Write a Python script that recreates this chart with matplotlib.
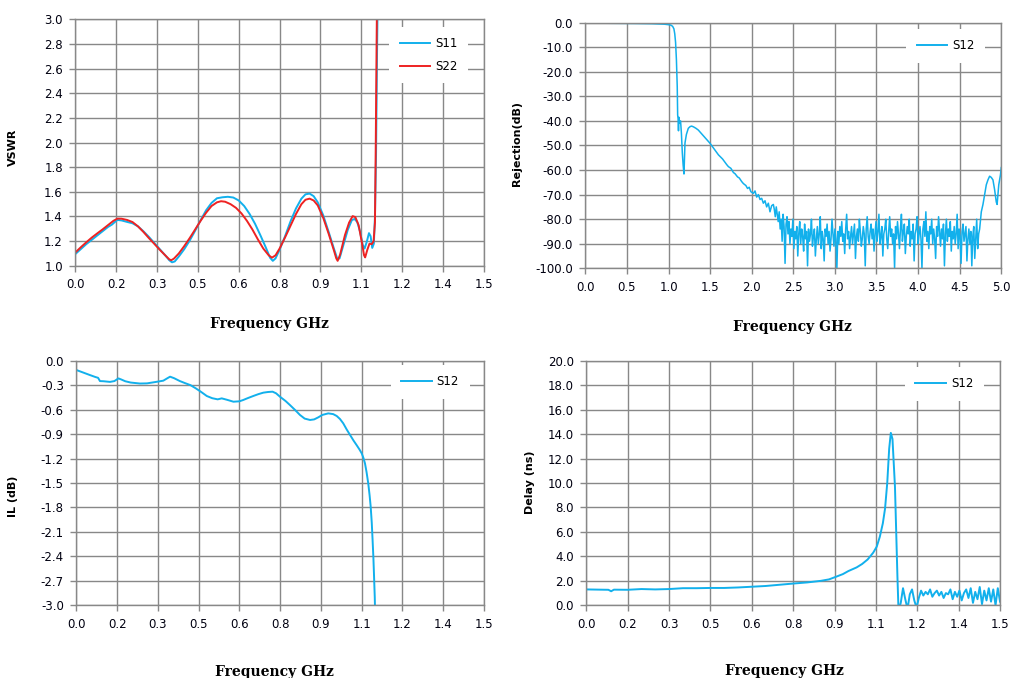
import numpy as np
import matplotlib
matplotlib.use("Agg")
import matplotlib.pyplot as plt

plt.rcParams['font.family'] = ['DejaVu Sans']

# ---------------- data ----------------
x_ticks_15 = [0.0, 0.15, 0.3, 0.45, 0.6, 0.75, 0.9, 1.05, 1.2, 1.35, 1.5]
x_ticklabels_15 = ["0.0", "0.2", "0.3", "0.5", "0.6", "0.8", "0.9", "1.1", "1.2", "1.4", "1.5"]
x_ticks_5 = [0.0, 0.5, 1.0, 1.5, 2.0, 2.5, 3.0, 3.5, 4.0, 4.5, 5.0]
x_ticklabels_5 = ["0.0", "0.5", "1.0", "1.5", "2.0", "2.5", "3.0", "3.5", "4.0", "4.5", "5.0"]

vswr_ticks = [1.0, 1.2, 1.4, 1.6, 1.8, 2.0, 2.2, 2.4, 2.6, 2.8, 3.0]
rej_ticks = [0, -10, -20, -30, -40, -50, -60, -70, -80, -90, -100]
il_ticks = [0.0, -0.3, -0.6, -0.9, -1.2, -1.5, -1.8, -2.1, -2.4, -2.7, -3.0]
delay_ticks = [0, 2, 4, 6, 8, 10, 12, 14, 16, 18, 20]

s11_f = [0.000, 0.020, 0.040, 0.060, 0.080, 0.100, 0.120, 0.135, 0.145, 0.155, 0.170, 0.190,
         0.210, 0.230, 0.250, 0.270, 0.290, 0.310, 0.330, 0.345, 0.355, 0.365, 0.380, 0.400,
         0.420, 0.440, 0.460, 0.480, 0.500, 0.520, 0.540, 0.560, 0.580, 0.600, 0.620, 0.640,
         0.660, 0.680, 0.700, 0.715, 0.725, 0.735, 0.750, 0.770, 0.790, 0.810, 0.830, 0.845,
         0.860, 0.875, 0.890, 0.910, 0.930, 0.950, 0.962, 0.970, 0.985, 1.000, 1.015, 1.025,
         1.035, 1.045, 1.055, 1.062, 1.070, 1.078, 1.084, 1.090, 1.096, 1.100, 1.104, 1.108, 1.112]
s11_v = [1.095, 1.135, 1.175, 1.210, 1.245, 1.280, 1.315, 1.335, 1.355, 1.372, 1.368, 1.356,
         1.345, 1.320, 1.280, 1.235, 1.185, 1.135, 1.085, 1.045, 1.028, 1.035, 1.075, 1.135,
         1.205, 1.285, 1.370, 1.450, 1.510, 1.548, 1.556, 1.560, 1.554, 1.530, 1.485, 1.420,
         1.340, 1.245, 1.145, 1.065, 1.040, 1.060, 1.130, 1.240, 1.360, 1.465, 1.545, 1.580,
         1.586, 1.565, 1.515, 1.410, 1.275, 1.135, 1.055, 1.060, 1.175, 1.290, 1.370, 1.380,
         1.355, 1.280, 1.170, 1.140, 1.195, 1.265, 1.240, 1.145, 1.180, 1.400, 1.900, 2.800, 3.500]

s22_f = [0.000, 0.020, 0.040, 0.060, 0.080, 0.100, 0.120, 0.140, 0.155, 0.170, 0.190, 0.210,
         0.230, 0.250, 0.270, 0.290, 0.310, 0.330, 0.345, 0.352, 0.362, 0.380, 0.400, 0.420,
         0.440, 0.460, 0.480, 0.500, 0.520, 0.535, 0.550, 0.570, 0.590, 0.610, 0.630, 0.650,
         0.670, 0.690, 0.710, 0.722, 0.735, 0.750, 0.770, 0.790, 0.810, 0.830, 0.845, 0.860,
         0.875, 0.890, 0.910, 0.930, 0.950, 0.958, 0.963, 0.972, 0.990, 1.005, 1.018, 1.028,
         1.040, 1.052, 1.060, 1.064, 1.072, 1.080, 1.088, 1.095, 1.100, 1.103, 1.106, 1.109]
s22_v = [1.108, 1.150, 1.190, 1.228, 1.262, 1.295, 1.330, 1.365, 1.383, 1.382, 1.372, 1.355,
         1.320, 1.275, 1.225, 1.178, 1.130, 1.085, 1.052, 1.045, 1.058, 1.100, 1.160, 1.225,
         1.295, 1.365, 1.430, 1.485, 1.515, 1.524, 1.520, 1.500, 1.470, 1.425, 1.365, 1.295,
         1.215, 1.140, 1.085, 1.066, 1.085, 1.140, 1.230, 1.325, 1.420, 1.500, 1.536, 1.545,
         1.530, 1.490, 1.390, 1.260, 1.120, 1.060, 1.040, 1.090, 1.250, 1.350, 1.403, 1.395,
         1.330, 1.190, 1.085, 1.068, 1.130, 1.180, 1.175, 1.200, 1.350, 2.000, 2.800, 3.500]

rej_f_main = [0.00, 0.20, 0.40, 0.60, 0.80, 0.95, 1.00, 1.03, 1.05, 1.065, 1.075, 1.085, 1.095,
              1.105, 1.110, 1.115, 1.120, 1.125, 1.135, 1.145, 1.155, 1.166, 1.176, 1.186,
              1.192, 1.198, 1.215, 1.238, 1.260, 1.278, 1.300, 1.330, 1.358, 1.400, 1.450,
              1.499, 1.550, 1.600, 1.650, 1.700, 1.720, 1.750, 1.780, 1.800, 1.830, 1.850,
              1.880, 1.900, 1.930, 1.950, 1.970, 1.990, 2.020, 2.040, 2.060, 2.080, 2.100,
              2.120, 2.140, 2.160, 2.180, 2.200, 2.220, 2.240]
rej_v_main = [-0.1, -0.2, -0.25, -0.3, -0.4, -0.6, -0.8, -1.0, -1.5, -2.5, -4.5, -8.0, -15.0,
              -26.0, -37.6, -39.0, -44.0, -38.5, -41.0, -40.0, -45.0, -53.0, -58.0, -61.6,
              -55.0, -49.0, -45.5, -43.0, -42.3, -42.1, -42.4, -43.0, -43.7, -45.3, -47.2,
              -49.1, -51.5, -53.8, -55.5, -57.8, -58.6, -59.3, -61.0, -61.5, -62.8, -63.2,
              -64.7, -65.5, -66.3, -67.5, -67.0, -68.8, -69.5, -68.5, -71.0, -70.0, -72.0,
              -71.5, -73.5, -72.5, -75.0, -73.5, -77.0, -74.5]
rej_noise_start = 2.26
rej_noise_stop = 4.74
rej_v_noise = [-74, -76, -79, -75, -78, -81, -77, -84, -80, -89, -78, -83, -98, -82, -79, -86, -81, -90, -84, -87, -80,
               -92, -85, -88, -83, -95, -86, -81, -90, -84, -87, -93, -82, -88, -85, -99, -84, -89, -86, -80, -91,
               -87, -84, -95, -88, -83, -90, -86, -79, -92, -85, -88, -97, -84, -87, -82, -90, -85, -93, -88, -80,
               -86, -91, -84, -88, -100, -85, -90, -83, -87, -81, -89, -86, -94, -84, -78, -88, -85, -92, -87, -83,
               -90, -86, -82, -96, -87, -84, -89, -80, -85, -91, -88, -83, -86, -99, -84, -79, -87, -90, -85, -82,
               -88, -84, -93, -86, -81, -89, -85, -78, -90, -87, -83, -95, -86, -84, -80, -88, -92, -85, -79, -87,
               -84, -90, -86, -100, -83, -88, -81, -86, -92, -84, -78, -89, -85, -82, -94, -87, -83, -86, -80, -91,
               -85, -88, -82, -97, -86, -84, -79, -90, -86, -83, -88, -100, -84, -81, -87, -77, -89, -85, -92, -83,
               -86, -80, -90, -84, -88, -96, -83, -87, -79, -85, -91, -84, -88, -82, -99, -86, -80, -89, -84, -87,
               -81, -93, -85, -88, -83, -90, -86, -78, -92, -84, -87, -98, -85, -82, -89, -86, -83, -97, -88, -84,
               -90, -85, -99, -87, -83, -96, -88, -80, -92, -86, -84]
rej_f_tail = [4.76, 4.78, 4.80, 4.82, 4.84, 4.86, 4.88, 4.90, 4.92, 4.94, 4.95, 4.97, 4.99, 5.00]
rej_v_tail = [-77, -74, -70, -66, -64, -62.5, -63, -64, -68, -73, -74, -66, -62, -59]

il_f = [0.000, 0.025, 0.050, 0.070, 0.080, 0.087, 0.100, 0.124, 0.140, 0.155, 0.165, 0.180,
        0.200, 0.234, 0.260, 0.290, 0.320, 0.335, 0.345, 0.360, 0.381, 0.400, 0.420, 0.440,
        0.460, 0.480, 0.500, 0.520, 0.535, 0.555, 0.578, 0.600, 0.614, 0.630, 0.651, 0.670,
        0.688, 0.705, 0.722, 0.735, 0.749, 0.770, 0.786, 0.805, 0.823, 0.840, 0.860, 0.875,
        0.890, 0.905, 0.927, 0.945, 0.958, 0.970, 0.982, 0.995, 1.007, 1.020, 1.031, 1.042,
        1.050, 1.056, 1.062, 1.068, 1.074, 1.079, 1.083, 1.087, 1.090, 1.093, 1.095, 1.098, 1.100]
il_v = [-0.114, -0.145, -0.176, -0.200, -0.210, -0.250, -0.252, -0.260, -0.250, -0.217, -0.230, -0.252,
        -0.268, -0.280, -0.278, -0.262, -0.245, -0.215, -0.196, -0.215, -0.250, -0.275, -0.300, -0.340,
        -0.385, -0.433, -0.460, -0.474, -0.462, -0.480, -0.503, -0.498, -0.482, -0.460, -0.433, -0.410,
        -0.392, -0.384, -0.380, -0.400, -0.441, -0.495, -0.544, -0.605, -0.666, -0.710, -0.727, -0.720,
        -0.695, -0.665, -0.646, -0.655, -0.678, -0.715, -0.768, -0.845, -0.910, -0.980, -1.034, -1.090,
        -1.136, -1.190, -1.259, -1.370, -1.504, -1.650, -1.790, -1.990, -2.200, -2.420, -2.607, -2.900, -3.200]

delay_f_main = [0.00, 0.05, 0.08, 0.09, 0.10, 0.15, 0.20, 0.25, 0.30, 0.35, 0.40, 0.45, 0.50,
                0.55, 0.60, 0.65, 0.70, 0.75, 0.80, 0.85, 0.88, 0.90, 0.93, 0.95, 0.98, 1.00,
                1.02, 1.04, 1.053, 1.064, 1.075, 1.083, 1.091, 1.098, 1.104, 1.110, 1.119,
                1.128, 1.132]
delay_v_main = [1.30, 1.28, 1.27, 1.15, 1.28, 1.27, 1.33, 1.30, 1.33, 1.40, 1.40, 1.42, 1.42,
                1.46, 1.52, 1.58, 1.68, 1.78, 1.87, 2.00, 2.12, 2.29, 2.55, 2.80, 3.10, 3.38,
                3.75, 4.30, 4.80, 5.60, 6.70, 7.90, 10.0, 12.8, 14.1, 13.6, 9.7, 2.3, -0.5]
delay_noise_start = 1.14
delay_noise_stop = 1.50
delay_v_noise = [0.2, 1.4, 0.5, -0.3, 0.9, 1.3, 0.4, -0.2, 0.6, 1.2, 0.8, 1.1, 0.9, 1.3, 0.7,
                 1.0, 1.2, 0.8, 1.1, 0.6, 1.0, 0.9, 1.3, 0.5, 1.1, 0.7, 1.2, 0.4, 1.0, 1.3,
                 0.6, 1.4, 0.2, 1.1, 0.5, 1.5, 0.1, 1.2, 0.4, 1.4, 0.3, 1.3, 0.0, 1.4, 0.3]

# ---------------- style ----------------
BLUE = '#12B0EC'
RED = '#EE2222'
GRID = '#888888'

fig = plt.figure(figsize=(10.19, 6.78), dpi=100)

def style_axes(ax, xlim, ylim, xt, xtl, yt, ytl, xlabel, ylabel, xl_pos, yl_pos):
    ax.set_xlim(*xlim)
    ax.set_ylim(*ylim)
    ax.set_xticks(xt)
    ax.set_xticklabels(xtl)
    ax.set_yticks(yt)
    ax.set_yticklabels(ytl)
    ax.grid(True, color=GRID, linewidth=1.0)
    ax.set_axisbelow(True)
    for sp in ax.spines.values():
        sp.set_color(GRID)
        sp.set_linewidth(1.0)
        sp.set_zorder(6)
    ax.tick_params(direction='out', length=4, width=1.0, color=GRID,
                   labelsize=8.5, labelcolor='#000010', pad=5)
    ax.set_xlabel(xlabel, family='DejaVu Serif', fontweight='bold', fontsize=10)
    ax.set_ylabel(ylabel, fontweight='bold', fontsize=8)
    ax.xaxis.set_label_coords(*xl_pos)
    ax.yaxis.set_label_coords(*yl_pos)

def add_legend(ax, anchor):
    ax.legend(loc='upper right', bbox_to_anchor=anchor, frameon=True, fancybox=False,
              edgecolor='none', facecolor='white', framealpha=1, fontsize=8.5,
              handlelength=2.6, handletextpad=0.4, borderpad=0.9, labelspacing=0.8)

# Top-left: VSWR
ax1 = fig.add_axes([0.0739, 0.608, 0.401, 0.3634])
ax1.plot(s11_f, s11_v, color=BLUE, lw=1.4, label='S11')
ax1.plot(s22_f, s22_v, color=RED, lw=1.4, label='S22')
style_axes(ax1, (0, 1.5), (1.0, 3.0), x_ticks_15, x_ticklabels_15,
           vswr_ticks, [f"{v:.1f}" for v in vswr_ticks],
           'Frequency GHz', 'VSWR', (0.476, -0.208), (-0.140, 0.48))
add_legend(ax1, (0.976, 0.994))

# Top-right: Rejection
ax2 = fig.add_axes([0.5744, 0.6043, 0.4082, 0.3622])
rej_f = rej_f_main + list(np.linspace(rej_noise_start, rej_noise_stop, len(rej_v_noise))) + rej_f_tail
rej_v = rej_v_main + rej_v_noise + rej_v_tail
ax2.plot(rej_f, rej_v, color=BLUE, lw=1.1, label='S12')
style_axes(ax2, (0, 5.0), (-100, 0), x_ticks_5, x_ticklabels_5,
           rej_ticks, [f"{v:.1f}" for v in rej_ticks],
           'Frequency GHz', 'Rejection(dB)', (0.499, -0.21), (-0.153, 0.51))
add_legend(ax2, (0.975, 1.0))
ax2.get_legend().get_lines()[0].set_linewidth(1.4)

# Bottom-left: IL
ax3 = fig.add_axes([0.0749, 0.1072, 0.4001, 0.3608])
ax3.plot(il_f, il_v, color=BLUE, lw=1.4, label='S12')
style_axes(ax3, (0, 1.5), (-3.0, 0.0), x_ticks_15, x_ticklabels_15,
           il_ticks, [f"{v:.1f}" for v in il_ticks],
           'Frequency GHz', 'IL (dB)', (0.487, -0.244), (-0.142, 0.444))
add_legend(ax3, (0.979, 1.008))

# Bottom-right: Delay
ax4 = fig.add_axes([0.5754, 0.1072, 0.406, 0.3608])
delay_f = delay_f_main + list(np.linspace(delay_noise_start, delay_noise_stop, len(delay_v_noise)))
delay_v = delay_v_main + delay_v_noise
ax4.plot(delay_f, delay_v, color=BLUE, lw=1.4, label='S12')
style_axes(ax4, (0, 1.5), (0, 20), x_ticks_15, x_ticklabels_15,
           delay_ticks, [f"{v:.1f}" for v in delay_ticks],
           'Frequency GHz', 'Delay (ns)', (0.478, -0.24), (-0.124, 0.505))
add_legend(ax4, (0.975, 1.0))

fig.savefig('out.png', dpi=100, facecolor='white')
